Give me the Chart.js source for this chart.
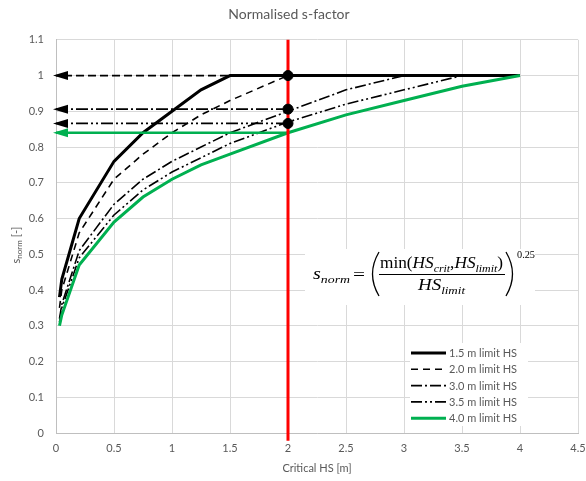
<!DOCTYPE html>
<html>
<head>
<meta charset="utf-8">
<title>Normalised s-factor</title>
<script src="https://cdn.jsdelivr.net/npm/chart.js@4.4.1/dist/chart.umd.min.js"></script>
<style>
  html, body { margin: 0; padding: 0; background: #fff; }
  canvas { display: block; }
</style>
</head>
<body>
<canvas id="sChart" width="586" height="481"></canvas>
<script>
// ================== DATA ==================
const hsCrit = [0.03, 0.05, 0.2, 0.5, 0.75, 1, 1.25, 1.5, 2, 2.5, 3, 3.5, 4];

const sLimit15 = [0.38, 0.43, 0.60, 0.76, 0.84, 0.90, 0.96, 1, 1, 1, 1, 1, 1];
const sLimit20 = [0.35, 0.40, 0.56, 0.71, 0.78, 0.84, 0.89, 0.93, 1, 1, 1, 1, 1];
const sLimit30 = [0.32, 0.36, 0.51, 0.64, 0.71, 0.76, 0.80, 0.84, 0.90, 0.96, 1, 1, 1];
const sLimit35 = [0.31, 0.35, 0.49, 0.61, 0.68, 0.73, 0.77, 0.81, 0.87, 0.92, 0.96, 1, 1];
const sLimit40 = [0.30, 0.33, 0.47, 0.59, 0.66, 0.71, 0.75, 0.78, 0.84, 0.89, 0.93, 0.97, 1];

const seriesLabels = ["1.5 m limit HS", "2.0 m limit HS", "3.0 m limit HS", "3.5 m limit HS", "4.0 m limit HS"];

// chosen critical HS and the s-values read back at it
const criticalHs = 2;
const arrowLevels = [1, 0.906, 0.866, 0.84];
const markerLevels = [1, 0.906, 0.866];

// axes
const xMin = 0, xMax = 4.5, xStep = 0.5;
const yMin = 0, yMax = 1.1, yStep = 0.1;
const redLineY = [-0.022, 1.1];

// ================== STYLE ==================
const FONT = "Lato, 'Liberation Sans', sans-serif";
const GREY = "#595959";
const GREEN = "#00b050";

const lineStyles = [
  { color: "#000", width: 3, dash: [] },
  { color: "#000", width: 1.6, dash: [7, 5] },
  { color: "#000", width: 1.6, dash: [11, 3, 2, 3] },
  { color: "#000", width: 1.6, dash: [11, 3, 2, 3, 2, 3] },
  { color: GREEN, width: 3, dash: [] }
];
const arrowStyles = [
  { color: "#000", width: 1.8, dash: [8, 4] },
  { color: "#000", width: 1.8, dash: [12, 3, 2, 3] },
  { color: "#000", width: 1.8, dash: [12, 3, 2, 3, 2, 3] },
  { color: GREEN, width: 2.4, dash: [] }
];

const toPoints = ys => hsCrit.map((x, i) => ({ x: x, y: ys[i] }));
const seriesValues = [sLimit15, sLimit20, sLimit30, sLimit35, sLimit40];

// Excel style labels: 1 instead of 1.0
const tickText = v => String(Math.round(v * 10) / 10);

// ================== DATASETS ==================
const datasets = [];

// black dots at the critical HS
datasets.push({
  label: "markers",
  data: markerLevels.map(y => ({ x: criticalHs, y: y })),
  showLine: false,
  pointRadius: 5,
  pointBackgroundColor: "#000",
  pointBorderColor: "#000",
  order: 0
});

// red vertical line
datasets.push({
  label: "critical",
  data: redLineY.map(y => ({ x: criticalHs, y: y })),
  borderColor: "#ff0000",
  borderWidth: 3,
  pointRadius: 0,
  clip: false,
  order: 1
});

// arrows back to the y axis
arrowLevels.forEach((level, i) => {
  const st = arrowStyles[i];
  datasets.push({
    label: "arrow" + i,
    data: [{ x: criticalHs, y: level }, { x: 0, y: level }],
    borderColor: st.color,
    borderWidth: st.width,
    borderDash: st.dash,
    pointRadius: 0,
    arrowHead: true,
    order: 2
  });
});

// the five curves
seriesValues.forEach((ys, i) => {
  const st = lineStyles[i];
  datasets.push({
    label: seriesLabels[i],
    data: toPoints(ys),
    borderColor: st.color,
    borderWidth: st.width,
    borderDash: st.dash,
    pointRadius: 0,
    tension: 0,
    inLegend: true,
    order: 3 + (4 - i)
  });
});

// ================== PLUGINS ==================
const arrowPlugin = {
  id: "arrowHeads",
  afterDatasetsDraw(chart) {
    const ctx = chart.ctx;
    chart.data.datasets.forEach((ds, i) => {
      if (!ds.arrowHead) return;
      const pts = chart.getDatasetMeta(i).data;
      const tip = pts[pts.length - 1];
      ctx.save();
      ctx.fillStyle = ds.borderColor;
      ctx.beginPath();
      ctx.moveTo(tip.x - 3, tip.y);
      ctx.lineTo(tip.x + 12, tip.y - 4.5);
      ctx.lineTo(tip.x + 12, tip.y + 4.5);
      ctx.closePath();
      ctx.fill();
      ctx.restore();
    });
  }
};

const legendPlugin = {
  id: "boxLegend",
  afterDatasetsDraw(chart) {
    const ctx = chart.ctx;
    const items = chart.data.datasets.filter(ds => ds.inLegend);
    ctx.save();
    ctx.fillStyle = "#fff";
    ctx.fillRect(410, 343, 118, 83);
    ctx.font = "11px " + FONT;
    ctx.textBaseline = "middle";
    items.forEach((ds, i) => {
      const y = 353 + i * 16.3;
      ctx.strokeStyle = ds.borderColor;
      ctx.lineWidth = ds.borderWidth;
      ctx.setLineDash(ds.borderDash);
      ctx.beginPath();
      ctx.moveTo(411, y);
      ctx.lineTo(446, y);
      ctx.stroke();
      ctx.setLineDash([]);
      ctx.fillStyle = GREY;
      ctx.fillText(ds.label, 449, y + 0.5);
    });
    ctx.restore();
  }
};

// draws a list of [text, font, dy] runs, squeezed to a given width
function drawRuns(ctx, runs, x, y, width) {
  let total = 0;
  runs.forEach(r => { ctx.font = r[1]; total += ctx.measureText(r[0]).width; });
  const k = width ? width / total : 1;
  ctx.save();
  ctx.translate(x, y);
  ctx.scale(k, 1);
  let cx = 0;
  runs.forEach(r => {
    ctx.font = r[1];
    ctx.fillText(r[0], cx, r[2] || 0);
    cx += ctx.measureText(r[0]).width;
  });
  ctx.restore();
}

const equationPlugin = {
  id: "equation",
  afterDatasetsDraw(chart) {
    const ctx = chart.ctx;
    const serif = "'Liberation Serif', 'DejaVu Serif', serif";
    const it = "italic 16px " + serif;
    const up = "16px " + serif;
    const sub = "italic 11px " + serif;
    ctx.save();
    ctx.fillStyle = "#fff";
    ctx.fillRect(305, 249, 230, 56);
    ctx.fillStyle = "#000";
    ctx.strokeStyle = "#000";
    ctx.textBaseline = "alphabetic";

    drawRuns(ctx, [["s", it], ["norm", sub, 4]], 313, 279, 37);
    drawRuns(ctx, [["=", up]], 353, 280, 12);

    // big brackets
    ctx.lineWidth = 1.3;
    ctx.beginPath();
    ctx.moveTo(379, 252);
    ctx.quadraticCurveTo(366, 274, 379, 296);
    ctx.stroke();
    ctx.beginPath();
    ctx.moveTo(506, 252);
    ctx.quadraticCurveTo(519, 274, 506, 296);
    ctx.stroke();

    // numerator
    drawRuns(ctx, [
      ["min(", up], ["HS", it], ["crit", sub, 4], [",", up],
      ["HS", it], ["limit", sub, 4], [")", up]
    ], 380, 268, 123);

    // fraction bar
    ctx.lineWidth = 1;
    ctx.beginPath();
    ctx.moveTo(379, 274.5);
    ctx.lineTo(505, 274.5);
    ctx.stroke();

    // denominator
    drawRuns(ctx, [["HS", it], ["limit", sub, 4]], 418, 290, 47);

    // exponent
    drawRuns(ctx, [["0.25", "11px " + serif]], 517, 258, 18);
    ctx.restore();
  }
};

const yTitlePlugin = {
  id: "yTitle",
  afterDraw(chart) {
    const ctx = chart.ctx;
    ctx.save();
    ctx.translate(16, 245);
    ctx.rotate(-Math.PI / 2);
    ctx.fillStyle = GREY;
    ctx.textBaseline = "middle";
    const runs = [["s", "11px " + FONT, 0], ["norm", "8px " + FONT, 3], [" [-]", "11px " + FONT, 0]];
    let w = 0;
    runs.forEach(r => { ctx.font = r[1]; w += ctx.measureText(r[0]).width; });
    let x = -w / 2;
    runs.forEach(r => {
      ctx.font = r[1];
      ctx.fillText(r[0], x, r[2]);
      x += ctx.measureText(r[0]).width;
    });
    ctx.restore();
  }
};

// ================== CHART ==================
Chart.defaults.font.family = FONT;
Chart.defaults.color = GREY;

new Chart(document.getElementById("sChart"), {
  type: "line",
  data: { datasets: datasets },
  options: {
    responsive: false,
    animation: false,
    devicePixelRatio: 1,
    layout: { padding: { top: 0, left: 0, right: 8, bottom: 0 } },
    plugins: {
      legend: { display: false },
      tooltip: { enabled: false },
      title: {
        display: true,
        text: "Normalised s-factor",
        color: GREY,
        font: { size: 14, weight: "normal" },
        padding: { top: 6, bottom: 17 }
      }
    },
    scales: {
      x: {
        type: "linear",
        min: xMin,
        max: xMax,
        ticks: { stepSize: xStep, padding: 9, font: { size: 11 }, color: GREY, callback: tickText },
        grid: { color: "#d9d9d9", drawTicks: false },
        border: { color: "#bfbfbf" },
        title: {
          display: true,
          text: "Critical HS [m]",
          color: GREY,
          font: { size: 11 },
          padding: { top: 0, bottom: 6 }
        },
        afterFit(s) { s.paddingLeft = 0; s.paddingRight = 0; s.height = 48; }
      },
      y: {
        min: yMin,
        max: yMax,
        ticks: { stepSize: yStep, padding: 12, font: { size: 11 }, color: GREY, callback: tickText },
        grid: { color: "#d9d9d9", drawTicks: false },
        border: { color: "#bfbfbf" },
        afterFit(s) { s.paddingTop = 0; s.paddingBottom = 0; s.width = 56; }
      }
    }
  },
  plugins: [arrowPlugin, legendPlugin, equationPlugin, yTitlePlugin]
});
</script>
</body>
</html>
